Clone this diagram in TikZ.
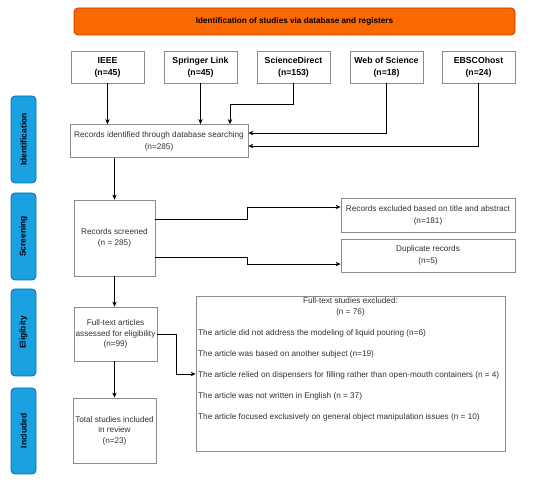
\documentclass[tikz,border=0pt]{standalone}
\usepackage{fontspec}
\setmainfont{Liberation Sans}
\usetikzlibrary{arrows.meta}
\definecolor{orfill}{HTML}{FA6800}
\definecolor{ordraw}{HTML}{C73500}
\definecolor{tabfill}{HTML}{1BA1E2}
\definecolor{tabdraw}{HTML}{006EAF}
\definecolor{boxdraw}{HTML}{8C8C8C}
\definecolor{txt}{HTML}{333333}
\begin{document}
\begin{tikzpicture}[x=1pt,y=-1pt,
  box/.style={draw=boxdraw, line width=0.8pt, fill=white, inner sep=1pt, align=center,
    text=txt, font=\fontsize{8.2}{11}\selectfont},
  srcbox/.style={box, text=black, font=\bfseries\fontsize{8.7}{12}\selectfont, minimum width=73pt, minimum height=32pt},
  tabbox/.style={draw=tabdraw, line width=0.8pt, fill=tabfill, rounded corners=4pt, minimum width=25pt,
    minimum height=87pt, inner sep=0pt},
  tablabel/.style={rotate=90, font=\bfseries\fontsize{8.4}{9}\selectfont, text=black},
  arr/.style={draw=black, line width=0.8pt, -{Stealth[length=5pt,width=4.5pt]}}]
\useasboundingbox (0,0) rectangle (550,484);
% banner
\node[draw=ordraw, line width=0.8pt, fill=orfill, rounded corners=4pt, minimum width=441pt, minimum height=27pt,
  font=\bfseries\fontsize{8.2}{9}\selectfont] (banner) at (294.5,21.5) {Identification of studies via database and registers};
% sources
\node[srcbox] (ieee) at (107.5,67) {IEEE\\(n=45)};
\node[srcbox] (spr) at (200.5,67) {Springer Link\\(n=45)};
\node[srcbox] (sd) at (293.5,67) {ScienceDirect\\(n=153)};
\node[srcbox] (wos) at (386.5,67) {Web of Science\\(n=18)};
\node[srcbox] (ebsco) at (478.5,67) {EBSCOhost\\(n=24)};
% main flow
\node[box, minimum width=178pt, minimum height=33pt, font=\fontsize{8.2}{12}\selectfont] (rec) at (159,141) {Records identified through database searching\\(n=285)};
\node[box, minimum width=81pt, minimum height=76pt] (scr) at (114.5,238) {Records screened\\(n = 285)};
\node[box, minimum width=174pt, minimum height=34pt, font=\fontsize{8.2}{12}\selectfont] (exc) at (428,215) {Records excluded based on title and abstract\\(n=181)};
\node[box, minimum width=174pt, minimum height=33pt, font=\fontsize{8.2}{12}\selectfont] (dup) at (428,255.5) {Duplicate records\\(n=5)};
\node[box, minimum width=83pt, minimum height=54pt, font=\fontsize{8.2}{10.5}\selectfont] (ft) at (115.5,334) {Full-text articles\\assessed for eligibility\\(n=99)};
\node[box, minimum width=309pt, minimum height=155pt] (ftex) at (350.5,373.5) {};
\node[align=center, text=txt, font=\fontsize{8.2}{10.5}\selectfont, inner sep=0pt, anchor=north] (ftexh) at (350.5,297.5) {Full-text studies excluded:\\(n = 76)};
\node[align=left, text=txt, font=\fontsize{8.2}{21}\selectfont, inner sep=0pt, anchor=north west] (ftexl) at (198,329) {The article did not address the modeling of liquid pouring (n=6)\\
The article was based on another subject (n=19)\\
The article relied on dispensers for filling rather than open-mouth containers (n = 4)\\
The article was not written in English (n = 37)\\
The article focused exclusively on general object manipulation issues (n = 10)};
\node[box, minimum width=83pt, minimum height=65pt, font=\fontsize{8.2}{10.5}\selectfont] (tot) at (114.5,430.5) {Total studies included\\in review\\(n=23)};
% tabs
\node[tabbox] (t1) at (23.5,139.5) {};
\node[tablabel] at (t1) {Identification};
\node[tabbox] (t2) at (23.5,236.5) {};
\node[tablabel] at (t2) {Screening};
\node[tabbox] (t3) at (23.5,332.5) {};
\node[tablabel] at (t3) {Eligibity};
\node[tabbox, minimum height=86pt] (t4) at (23.5,431) {};
\node[tablabel] at (t4) {Included};
% connectors
\coordinate (sdk) at (230,104);
\draw[arr] (ieee.south) -- (ieee.south |- rec.north);
\draw[arr] (spr.south) -- (spr.south |- rec.north);
\draw[arr] (sd.south) |- (sdk) -- (sdk |- rec.north);
\draw[arr] (wos.south) |- ([yshift=8pt]rec.east);
\draw[arr] (ebsco.south) |- ([yshift=-5pt]rec.east);
\draw[arr] (scr.north |- rec.south) -- (scr.north);
\draw[arr] ([yshift=19pt]scr.east) -- ++(92,0) |- ([yshift=8pt]exc.west);
\draw[arr] ([yshift=-19pt]scr.east) -- ++(92,0) |- ([yshift=-8.5pt]dup.west);
\draw[arr] (scr.south) -- (scr.south |- ft.north);
\draw[arr] (ft.east) -- ++(19,0) |- (ftex.west |- 0,374);
\draw[arr] (tot.north |- ft.south) -- (tot.north);
\end{tikzpicture}
\end{document}
